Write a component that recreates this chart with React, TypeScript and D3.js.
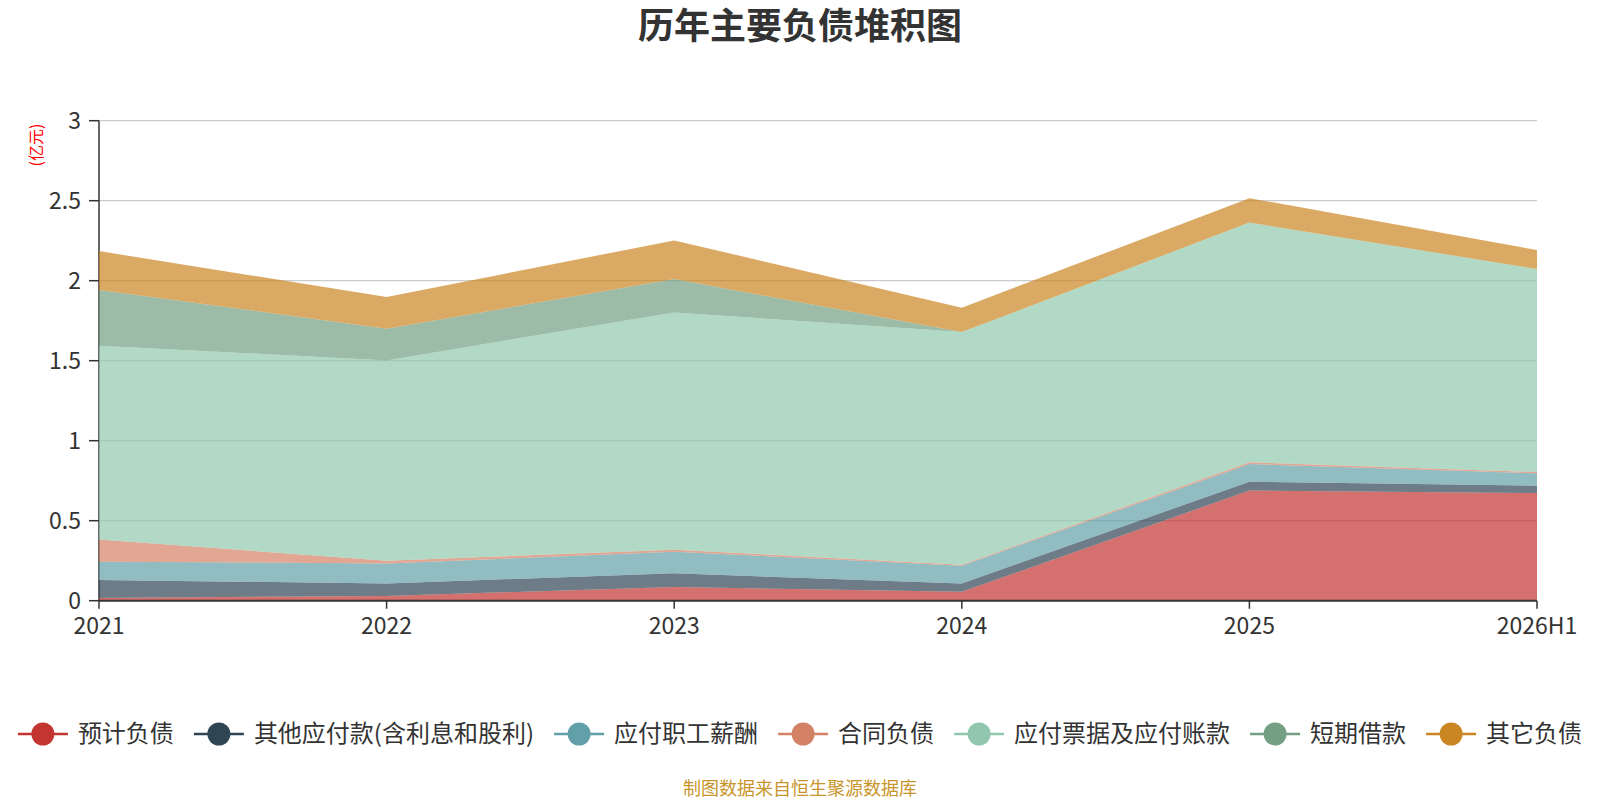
import React, { useEffect, useMemo } from "react";
import * as d3 from "d3";

const categories = ["2021", "2022", "2023", "2024", "2025", "2026H1"];
const seriesNames = [
  "预计负债",
  "其他应付款(含利息和股利)",
  "应付职工薪酬",
  "合同负债",
  "应付票据及应付账款",
  "短期借款",
  "其它负债",
];
const seriesColors = ["#c23531", "#2f4554", "#61a0a8", "#d48265", "#91c7ae", "#749f83", "#ca8622"];

// values in 亿元, per series, per category
const yujiFuzhai = [0.017, 0.03, 0.085, 0.056, 0.688, 0.673];
const qitaYingfu = [0.112, 0.078, 0.086, 0.052, 0.056, 0.046];
const zhigongXinchou = [0.115, 0.125, 0.135, 0.111, 0.11, 0.077];
const hetongFuzhai = [0.139, 0.017, 0.013, 0.006, 0.011, 0.008];
const yingfuPiaoju = [1.211, 1.252, 1.483, 1.454, 1.498, 1.269];
const duanqiJiekuan = [0.348, 0.198, 0.208, 0, 0, 0];
const qitaFuzhai = [0.243, 0.198, 0.242, 0.152, 0.153, 0.119];

const seriesValues = [
  yujiFuzhai,
  qitaYingfu,
  zhigongXinchou,
  hetongFuzhai,
  yingfuPiaoju,
  duanqiJiekuan,
  qitaFuzhai,
];

const yTicks = [0, 0.5, 1, 1.5, 2, 2.5, 3];
const yTickLabels = ["0", "0.5", "1", "1.5", "2", "2.5", "3"];

const titleText = "历年主要负债堆积图";
const unitText = "(亿元)";
const footerText = "制图数据来自恒生聚源数据库";

const W = 1600;
const H = 800;
const FONT = '"Noto Sans CJK SC", "Noto Sans", sans-serif';

function measure(text: string, size: number): number {
  const c = document.createElement("canvas");
  const ctx = c.getContext("2d");
  if (!ctx) return text.length * size;
  ctx.font = `${size}px ${FONT}`;
  return ctx.measureText(text).width;
}

export default function App() {
  useEffect(() => {
    document.body.style.margin = "0";
  }, []);

  const x = d3.scalePoint<string>().domain(categories).range([99, 1537]);
  const y = d3.scaleLinear().domain([0, 3]).range([600.7, 120.7]);

  const rows = categories.map((c, i) => {
    const r: any = { cat: c };
    seriesNames.forEach((s, j) => (r[s] = seriesValues[j][i]));
    return r;
  });
  const stacked = d3.stack<any>().keys(seriesNames)(rows);
  const area = d3
    .area<any>()
    .x((d) => x(d.data.cat) as number)
    .y0((d) => y(d[0]))
    .y1((d) => y(d[1]));

  const legendFont = 24;
  const legendLayout = useMemo(() => {
    const iconW = 50;
    const textGap = 10;
    const itemGap = 20;
    const widths = seriesNames.map((s) => iconW + textGap + measure(s, legendFont));
    const total = widths.reduce((a, b) => a + b, 0) + itemGap * (widths.length - 1);
    let cur = W / 2 - total / 2;
    return widths.map((w) => {
      const start = cur;
      cur += w + itemGap;
      return { start, iconW, textGap };
    });
  }, []);

  const legendY = 734;
  const tickFont = 23;

  return (
    <svg width={W} height={H} style={{ display: "block", fontFamily: FONT }}>
      <rect x={0} y={0} width={W} height={H} fill="#ffffff" />
      <text x={800} y={39} textAnchor="middle" fontSize={36} fontWeight="bold" fill="#333333">
        {titleText}
      </text>

      {/* grid lines */}
      {yTicks
        .filter((t) => t > 0)
        .map((t) => (
          <line key={t} x1={99} x2={1537} y1={y(t)} y2={y(t)} stroke="#cccccc" strokeWidth={1.3} />
        ))}

      {/* y axis */}
      <line x1={99} x2={99} y1={y(3)} y2={y(0)} stroke="#333333" strokeWidth={1.5} />
      {yTicks.map((t, i) => (
        <g key={t}>
          <line x1={89} x2={99} y1={y(t)} y2={y(t)} stroke="#333333" strokeWidth={1.5} />
          <text x={81} y={y(t)} dy="0.35em" textAnchor="end" fontSize={tickFont} fill="#333333">
            {yTickLabels[i]}
          </text>
        </g>
      ))}
      <text
        transform={`translate(42,145) rotate(-90)`}
        textAnchor="middle"
        fontSize={16}
        fill="#ff0000"
      >
        {unitText}
      </text>

      {/* areas */}
      {stacked.map((s, j) => (
        <path key={s.key} d={area(s) || ""} fill={seriesColors[j]} fillOpacity={0.7} stroke="none" />
      ))}

      {/* x axis */}
      <line x1={99} x2={1537} y1={y(0)} y2={y(0)} stroke="#333333" strokeWidth={2} />
      {categories.map((c) => (
        <g key={c}>
          <line x1={x(c)} x2={x(c)} y1={y(0)} y2={y(0) + 8} stroke="#333333" strokeWidth={1.5} />
          <text x={x(c)} y={634} textAnchor="middle" fontSize={tickFont} fill="#333333">
            {c}
          </text>
        </g>
      ))}

      {/* legend */}
      {seriesNames.map((s, j) => {
        const l = legendLayout[j];
        return (
          <g key={s}>
            <line
              x1={l.start}
              x2={l.start + l.iconW}
              y1={legendY}
              y2={legendY}
              stroke={seriesColors[j]}
              strokeWidth={2.5}
            />
            <circle cx={l.start + l.iconW / 2} cy={legendY} r={11.5} fill={seriesColors[j]} />
            <text
              x={l.start + l.iconW + l.textGap}
              y={legendY}
              dy="0.35em"
              fontSize={legendFont}
              fill="#333333"
            >
              {s}
            </text>
          </g>
        );
      })}

      <text x={800} y={795} textAnchor="middle" fontSize={18} fill="#c8952b">
        {footerText}
      </text>
    </svg>
  );
}
